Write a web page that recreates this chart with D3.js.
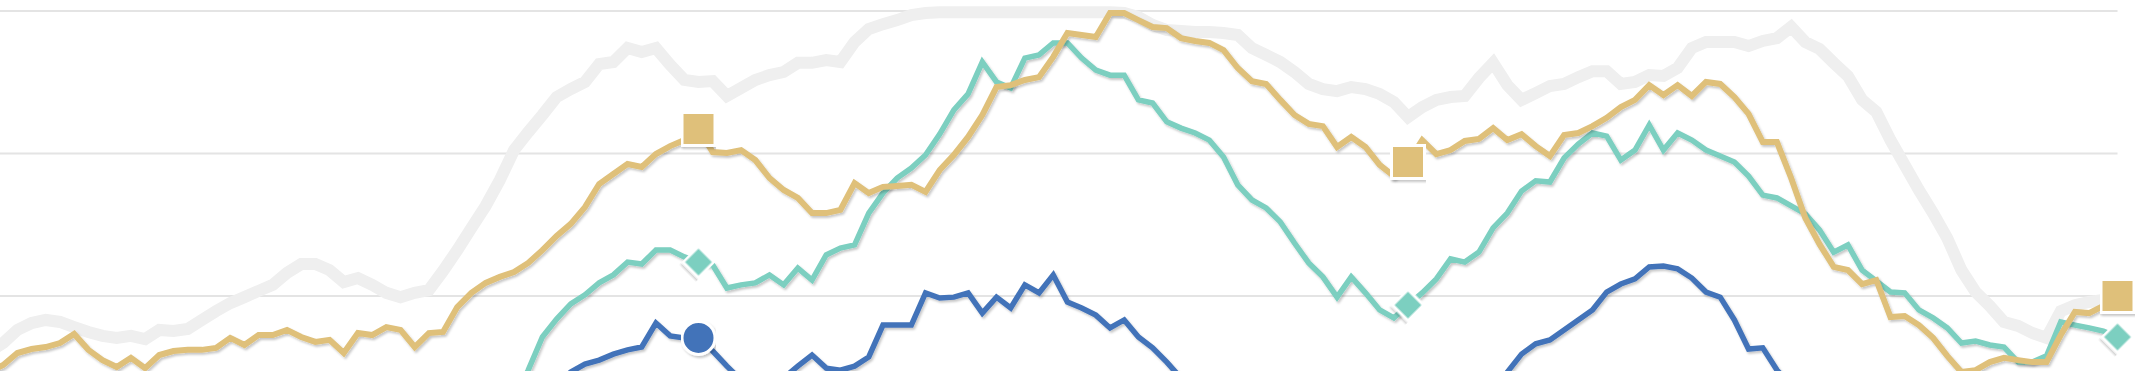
<!DOCTYPE html>
<html>
<head>
<meta charset="utf-8">
<script src="https://cdn.jsdelivr.net/npm/d3@7"></script>
<style>
  body { margin: 0; background: #fff; }
  svg { display: block; }
</style>
</head>
<body>
<div id="chart"></div>
<script>
// values, one per step (0..150)
const grayValues = [30.4, 33.5, 38.1, 40.5, 41.6, 40.9, 39.1, 37.4, 36.0, 35.3,
  36.0, 34.9, 38.1, 37.7, 38.4, 41.6, 44.7, 47.5, 49.6, 51.8,
  53.9, 58.1, 61.2, 61.2, 59.1, 54.9, 56.3, 53.9, 51.1, 49.6,
  51.1, 52.1, 58.8, 66.1, 73.9, 81.6, 90.7, 101.2, 107.5, 113.5,
  119.8, 122.6, 125.1, 131.4, 132.1, 137.0, 135.6, 137.0, 131.1, 125.8,
  125.1, 125.4, 120.2, 123.0, 125.8, 127.5, 128.6, 131.8, 131.8, 132.8,
  132.1, 139.1, 143.7, 145.4, 146.8, 148.6, 149.3, 149.6, 149.6, 149.6,
  149.6, 149.6, 149.6, 149.6, 149.6, 149.6, 149.6, 149.6, 149.6, 149.6,
  149.3, 147.9, 145.1, 143.3, 143.0, 142.6, 142.6, 142.3, 141.6, 137.0,
  134.6, 132.1, 128.6, 124.4, 122.6, 121.9, 123.3, 122.6, 120.9, 118.1,
  112.8, 116.3, 118.8, 119.8, 120.2, 126.5, 131.8, 124.0, 118.8, 121.2,
  123.7, 124.4, 126.8, 128.9, 128.9, 124.4, 125.1, 127.5, 127.2, 130.0,
  137.0, 139.1, 139.1, 139.1, 137.7, 139.5, 140.5, 144.4, 139.1, 136.7,
  131.8, 127.2, 118.8, 114.6, 104.7, 96.0, 87.2, 79.1, 70.3, 59.1,
  51.4, 46.5, 40.9, 39.5, 37.0, 35.3, 44.7, 46.8, 47.9, 48.6,
  49.3];

const goldValues = [23.3, 25.8, 30.0, 31.4, 32.1, 33.5, 36.7, 31.1, 27.5, 25.1,
  28.3, 24.7, 29.3, 30.7, 31.1, 31.1, 31.8, 35.3, 32.8, 36.3,
  36.3, 38.1, 35.6, 33.9, 34.6, 30.0, 37.0, 36.3, 39.1, 38.1,
  32.1, 37.0, 37.4, 46.1, 51.1, 54.6, 56.7, 58.4, 61.6, 66.1,
  71.1, 75.3, 81.2, 89.3, 92.8, 96.3, 95.3, 99.8, 102.6, 104.7,
  108.6, 100.5, 100.2, 101.2, 97.7, 91.4, 87.2, 84.4, 79.1, 79.1,
  80.2, 89.6, 86.1, 88.3, 88.6, 89.0, 86.5, 94.2, 99.5, 105.8,
  113.5, 123.3, 124.0, 125.8, 126.8, 133.9, 142.3, 141.6, 140.9, 149.3,
  149.3, 146.8, 144.4, 144.0, 140.5, 139.5, 138.8, 136.3, 130.0, 125.4,
  124.4, 118.8, 113.5, 110.4, 109.6, 102.3, 105.8, 102.3, 96.0, 92.1,
  97.0, 104.7, 99.8, 101.2, 104.4, 105.1, 108.9, 104.7, 106.8, 102.6,
  99.1, 106.5, 107.2, 109.6, 112.5, 116.3, 118.8, 124.0, 120.5, 124.0,
  120.2, 125.1, 124.4, 119.8, 113.9, 104.0, 104.0, 91.4, 77.4, 68.2,
  60.2, 59.1, 54.2, 55.6, 42.6, 43.0, 39.8, 35.3, 29.0, 23.3,
  24.0, 26.8, 28.3, 27.5, 26.8, 26.8, 36.3, 44.4, 44.0, 46.5,
  50.0];

// teal comes in from below the frame at step 37
const tealValues = Array(37).fill(null).concat([13.5, 24.0, 35.6,
  41.9, 47.2, 50.4, 54.6, 57.4, 61.9, 61.2, 66.1, 66.1, 63.7,
  61.9, 60.9, 52.8, 53.9, 54.6, 57.4, 53.9, 59.8, 55.6, 64.4,
  66.8, 67.9, 79.1, 86.1, 91.4, 94.9, 99.5, 106.8, 115.3, 120.9,
  132.1, 125.1, 123.0, 133.5, 134.6, 138.8, 138.8, 133.5, 129.3, 127.5,
  127.5, 118.8, 117.7, 111.1, 108.9, 107.2, 104.7, 98.8, 89.0, 83.7,
  80.9, 76.0, 68.6, 61.6, 56.7, 49.6, 56.7, 51.1, 45.1, 42.3,
  46.8, 51.1, 56.0, 63.0, 61.9, 65.4, 73.9, 79.1, 86.8, 90.4,
  90.0, 98.4, 103.3, 107.2, 106.1, 97.7, 101.2, 110.0, 101.2, 107.2,
  104.7, 101.2, 99.1, 97.0, 92.1, 85.4, 84.4, 81.6, 78.8, 73.2,
  65.4, 67.9, 59.1, 55.3, 51.4, 51.1, 45.1, 42.3, 38.8, 33.5,
  34.2, 32.8, 32.1, 26.8, 26.8, 29.0, 40.9, 39.8, 38.8, 37.7,
  35.6]);

// blue only shows up in two humps, the rest is under the frame
const blueValues = Array(40).fill(null).concat([18.8, 23.3, 26.1, 27.5, 29.6, 31.1, 32.1, 40.5, 36.0, 35.3,
  35.3, 30.7, 25.4, 20.5, null, null, 21.2, 25.4, 29.3, 24.7,
  24.0, 25.4, 28.6, 39.8, 39.8, 39.8, 51.1, 49.3, 49.6, 51.1,
  44.0, 49.6, 45.8, 53.9, 51.1, 57.4, 47.9, 45.8, 43.3, 38.8,
  41.6, 35.6, 31.8, 26.8, 21.2], Array(21).fill(null), [17.0, 23.3, 29.6, 33.2, 34.6, 38.1, 41.6, 45.1, 51.4, 54.2,
  56.0, 60.2, 60.5, 59.5, 56.3, 51.4, 49.6, 41.6, 31.4, 31.8,
  24.0, 18.8], Array(23).fill(null));

const gridValues = [50, 100, 150];
const markerSteps = [50, 100, 150];

const width = 2137,
    height = 371;

const svg = d3.select("#chart").append("svg")
    .attr("width", width)
    .attr("height", height);

const defs = svg.append("defs");
defs.append("filter")
    .attr("id", "shadow")
    .attr("x", "-2%").attr("y", "-10%")
    .attr("width", "104%").attr("height", "130%")
    .append("feDropShadow")
    .attr("dx", 1.5)
    .attr("dy", 2)
    .attr("stdDeviation", 1.3)
    .attr("flood-color", "#000")
    .attr("flood-opacity", 0.22);

const x = d3.scaleLinear()
    .domain([0, 150])
    .range([-11, 2117.5]);

const y = d3.scaleLinear()
    .domain([50, 150])
    .range([296, 11]);

// grid
svg.append("g").selectAll("line")
    .data(gridValues)
    .enter().append("line")
    .attr("x1", 0)
    .attr("x2", x(150))
    .attr("y1", d => y(d))
    .attr("y2", d => y(d))
    .style("stroke", "#e4e4e4")
    .style("stroke-width", 2);

const line = d3.line()
    .defined(d => d != null)
    .x((d, i) => x(i))
    .y(d => y(d));

const series = [
    {name: "gray", values: grayValues, colour: "#efefef", width: 12, shadow: false, marker: null},
    {name: "blue", values: blueValues, colour: "#4373b9", width: 5.5, shadow: true, marker: d3.symbolCircle},
    {name: "teal", values: tealValues, colour: "#7bcfc0", width: 5.5, shadow: true, marker: "diamond"},
    {name: "gold", values: goldValues, colour: "#dfc07a", width: 6, shadow: true, marker: d3.symbolSquare}
];

svg.append("g").selectAll("path")
    .data(series)
    .enter().append("path")
    .attr("d", d => line(d.values))
    .attr("filter", d => d.shadow ? "url(#shadow)" : null)
    .style("fill", "none")
    .style("stroke", d => d.colour)
    .style("stroke-width", d => d.width)
    .style("stroke-linejoin", "miter");

// markers every 50 steps, drawn on top
const markerData = [];
series.filter(s => s.marker).forEach(s => {
    markerSteps.forEach(step => {
        if (s.values[step] != null) markerData.push({s: s, step: step, value: s.values[step]});
    });
});

const symbolPath = d => {
    if (d.s.marker === "diamond") return d3.symbol().type(d3.symbolSquare).size(22 * 22)();
    if (d.s.marker === d3.symbolCircle) return d3.symbol().type(d3.symbolCircle).size(Math.PI * 16.5 * 16.5)();
    return d3.symbol().type(d3.symbolSquare).size(33 * 33)();
};

svg.append("g").selectAll("path")
    .data(markerData)
    .enter().append("path")
    .attr("d", symbolPath)
    .attr("transform", d => "translate(" + [x(d.step), y(d.value)] + ")" + (d.s.marker === "diamond" ? " rotate(45)" : ""))
    .attr("filter", "url(#shadow)")
    .style("fill", d => d.s.colour)
    .style("stroke", "#fff")
    .style("stroke-width", 3);
</script>
</body>
</html>
